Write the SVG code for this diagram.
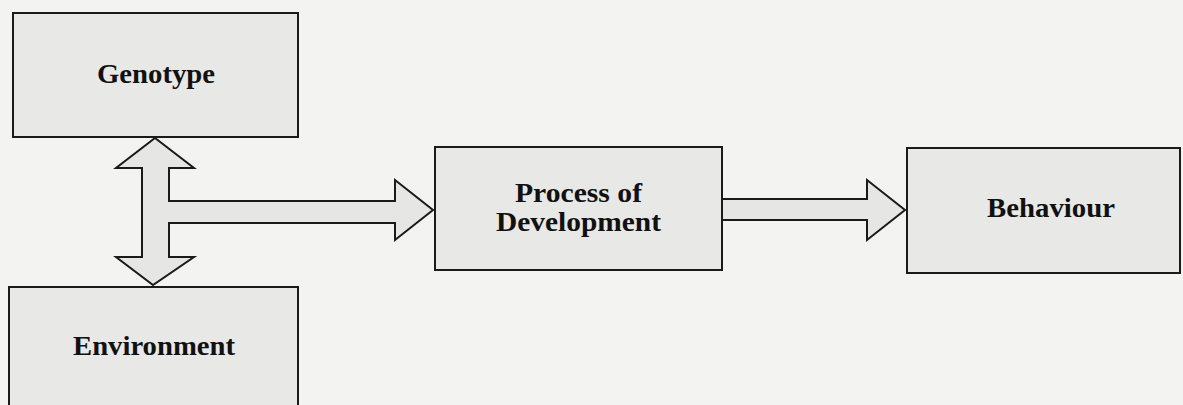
<svg xmlns="http://www.w3.org/2000/svg" width="1183" height="405" viewBox="0 0 1183 405">
<style>
.box{fill:#e8e8e6;stroke:#1a1a1a;stroke-width:2}
.arr{fill:#e6e6e4;stroke:#1a1a1a;stroke-width:2;stroke-linejoin:miter}
.t{font-family:"Liberation Serif","Times New Roman",serif;font-weight:bold;font-size:27px;fill:#111;text-anchor:middle}
</style>
<rect width="1183" height="405" fill="#f3f3f1"/>
<g id="genotype">
<rect class="box" x="13" y="13" width="285" height="124"/>
<text class="t" x="156" y="83" textLength="118" lengthAdjust="spacingAndGlyphs">Genotype</text>
</g>
<g id="environment">
<rect class="box" x="9" y="287" width="289" height="130"/>
<text class="t" x="154" y="355" textLength="162" lengthAdjust="spacingAndGlyphs">Environment</text>
</g>
<g id="process">
<rect class="box" x="435" y="147" width="287" height="123"/>
<text class="t" x="578.5" y="202" textLength="127" lengthAdjust="spacingAndGlyphs">Process of</text>
<text class="t" x="578.5" y="231" textLength="165" lengthAdjust="spacingAndGlyphs">Development</text>
</g>
<g id="behaviour">
<rect class="box" x="907" y="148" width="273" height="125"/>
<text class="t" x="1051" y="217" textLength="128" lengthAdjust="spacingAndGlyphs">Behaviour</text>
</g>
<g id="connectors">
<polygon class="arr" points="169,201 395,201 395,180 433,210 395,240 395,223 169,223 169,257 194,257 153,285 116,257 142,257 142,168 116,168 155,138 194,168 169,168"/>
<polygon class="arr" points="722,199 867,199 867,180 905,210 867,240 867,220 722,220"/>
</g>
</svg>
